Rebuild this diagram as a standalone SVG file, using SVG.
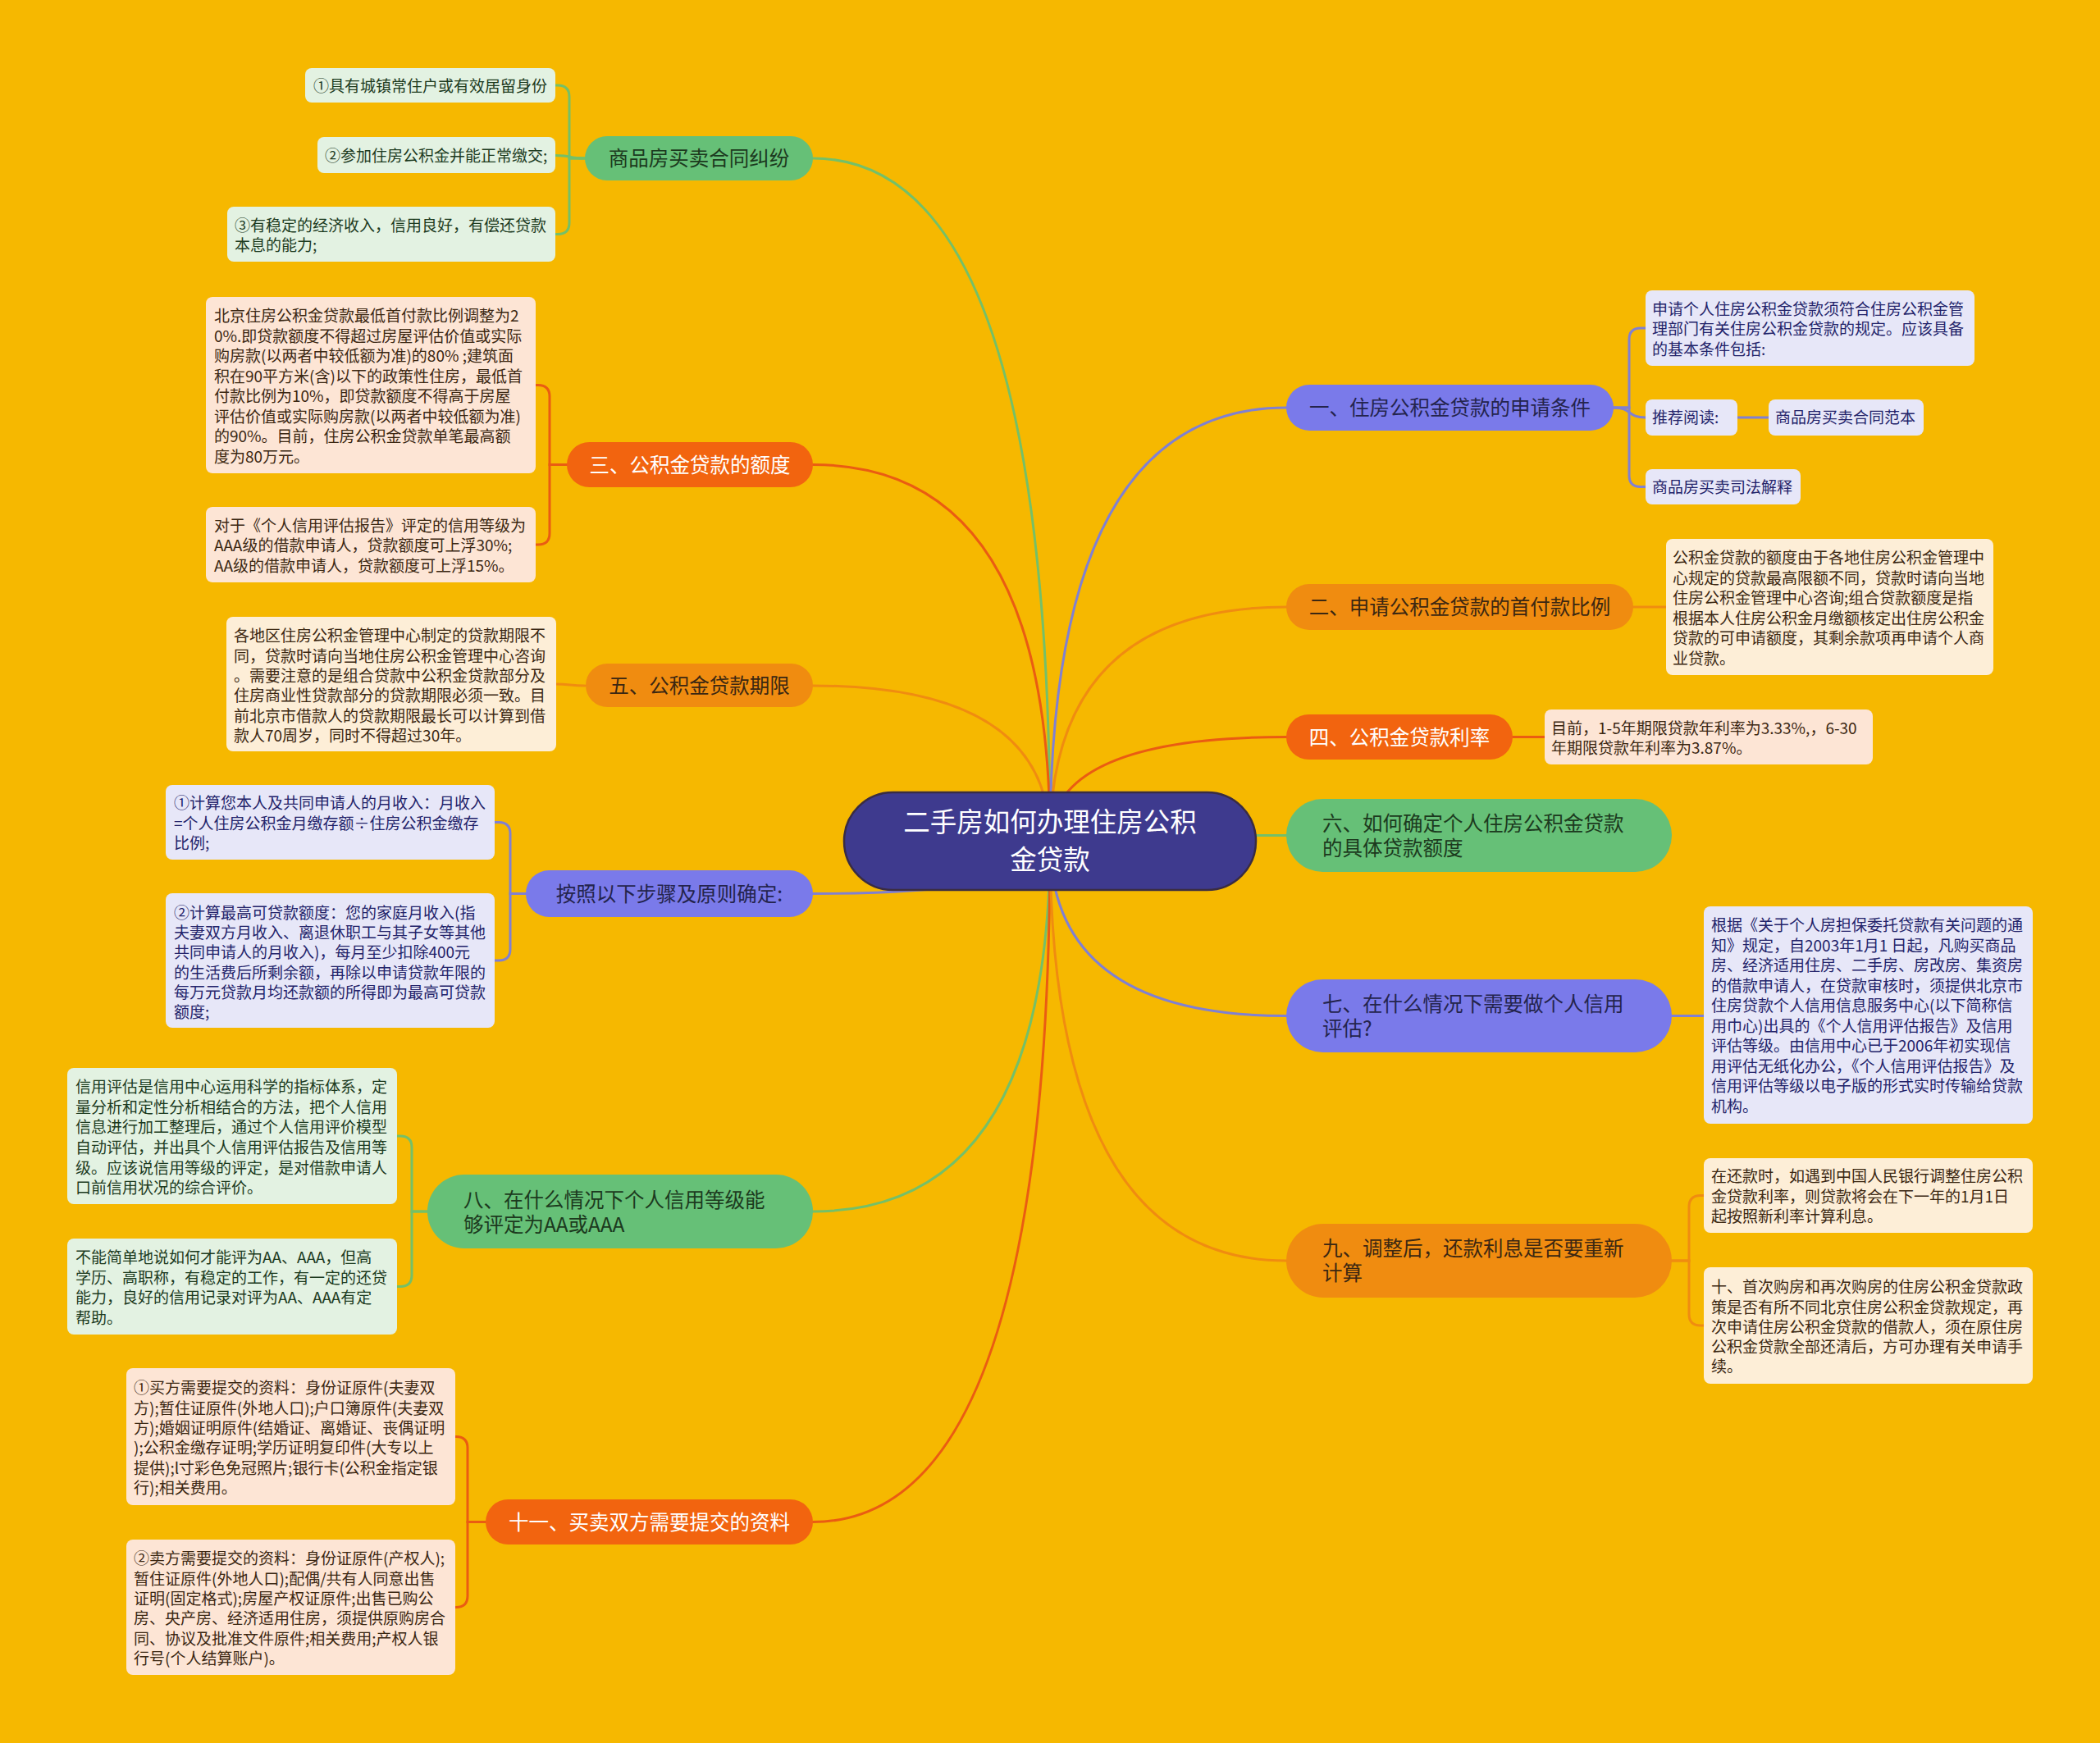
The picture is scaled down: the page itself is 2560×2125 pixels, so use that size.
<svg xmlns="http://www.w3.org/2000/svg" width="2560" height="2125" viewBox="0 0 2560 2125">
<style>
text{font-family:"Noto Sans CJK SC","Noto Sans",sans-serif;}
.lf{font-size:19px;}
.mn{font-size:24.5px;}
.ct{font-size:32.5px;fill:#ffffff;}
.mid{text-anchor:middle;}
.cn{fill:none;stroke-width:3;stroke-linecap:round;}
.cg{stroke:#74c068;}
.cp{stroke:#8080d2;}
.co{stroke:#f08c10;}
.cr{stroke:#ea5c12;}
.ng{fill:#66c077;}
.np{fill:#7a7aea;}
.no{fill:#f08c10;}
.nr{fill:#f2640f;}
.lg{fill:#e3f2e2;}
.lp{fill:#e7e7f8;}
.lo{fill:#fdeed7;}
.lr{fill:#fde5d5;}
.tg{fill:#1c3a1e;}
.tp{fill:#23236a;}
.tpn{fill:#24244d;}
.to{fill:#3b2712;}
.tw{fill:#ffffff;}
</style>
<rect x="0" y="0" width="2560" height="2125" fill="#f6b800"/>

<g id="connectors">
<path class="cn cg" d="M1280 1025 Q1280 193 991 193"/>
<path class="cn cr" d="M1280 1025 Q1280 566.5 991 566.5"/>
<path class="cn co" d="M1280 1025 Q1280 836 991 836"/>
<path class="cn cp" d="M1280 1025 Q1280 1089.5 991 1089.5"/>
<path class="cn cg" d="M1280 1025 Q1280 1477 991 1477"/>
<path class="cn cr" d="M1280 1025 Q1280 1855.5 991 1855.5"/>
<path class="cn cp" d="M1280 1025 Q1280 497 1568 497"/>
<path class="cn co" d="M1280 1025 Q1280 740 1568 740"/>
<path class="cn cr" d="M1280 1025 Q1280 898.5 1568 898.5"/>
<path class="cn cg" d="M1280 1025 Q1280 1018.5 1568 1018.5"/>
<path class="cn cp" d="M1280 1025 Q1280 1238.5 1568 1238.5"/>
<path class="cn co" d="M1280 1025 Q1280 1537 1568 1537"/>

<path class="cn cg" d="M713 193 H694 V118 Q694 104 680 104 H677"/>
<path class="cn cg" d="M713 193 C690 193 700 189.5 677 189.5"/>
<path class="cn cg" d="M713 193 H694 V271.5 Q694 285.5 680 285.5 H677"/>

<path class="cn cr" d="M691 566.5 H670 V483.5 Q670 469.5 656 469.5 H653"/>
<path class="cn cr" d="M691 566.5 H670 V650 Q670 664 656 664 H653"/>

<path class="cn co" d="M713 836 C695 836 695 834 677 834"/>

<path class="cn cp" d="M641 1089.5 H622 V1016.5 Q622 1002.5 608 1002.5 H603"/>
<path class="cn cp" d="M641 1089.5 H622 V1157 Q622 1171 608 1171 H603"/>

<path class="cn cg" d="M521 1477 H502 V1399 Q502 1385 488 1385 H484"/>
<path class="cn cg" d="M521 1477 H502 V1554.5 Q502 1568.5 488 1568.5 H484"/>

<path class="cn cr" d="M592 1855.5 H570 V1765.5 Q570 1751.5 556 1751.5 H555"/>
<path class="cn cr" d="M592 1855.5 H570 V1945.5 Q570 1959.5 556 1959.5 H555"/>

<path class="cn cp" d="M1967 497 H1986 V414 Q1986 400 2000 400 H2006"/>
<path class="cn cp" d="M1967 497 C1990 497 1983 509 2006 509"/>
<path class="cn cp" d="M1967 497 H1986 V579.5 Q1986 593.5 2000 593.5 H2006"/>
<path class="cn cp" d="M2118 509 H2156"/>

<path class="cn co" d="M1991 740 H2031"/>
<path class="cn cr" d="M1844 898.5 H1883"/>
<path class="cn cp" d="M2038 1238.5 H2077"/>

<path class="cn co" d="M2038 1537 H2059 V1471.5 Q2059 1457.5 2073 1457.5 H2077"/>
<path class="cn co" d="M2038 1537 H2059 V1602 Q2059 1616 2073 1616 H2077"/>
</g>

<g id="center">
<rect x="1029" y="966" width="502" height="119" rx="59.5" fill="#3e3a8e" stroke="#3a2c42" stroke-width="2.5"/>
<text class="ct mid" x="1280" y="1014.4">二手房如何办理住房公积<tspan x="1280" dy="46">金贷款</tspan></text>
</g>

<g id="node-A">
<rect class="ng" x="713" y="166" width="278" height="54" rx="27"/>
<text class="mn mid tg" x="852" y="202.3">商品房买卖合同纠纷</text>
</g>
<g id="leaf-A1">
<rect class="lg" x="372" y="83" width="305" height="42" rx="8"/>
<text class="lf tg" x="382" y="111.5">①具有城镇常住户或有效居留身份</text>
</g>
<g id="leaf-A2">
<rect class="lg" x="387" y="167" width="290" height="44" rx="8"/>
<text class="lf tg" x="396" y="197">②参加住房公积金并能正常缴交;</text>
</g>
<g id="leaf-A3">
<rect class="lg" x="277" y="252" width="400" height="67" rx="8"/>
<text class="lf tg" x="286" y="281.7">③有稳定的经济收入，信用良好，有偿还贷款<tspan x="286" dy="24">本息的能力;</tspan></text>
</g>

<g id="node-B">
<rect class="nr" x="691" y="539" width="300" height="55" rx="27.5"/>
<text class="mn mid tw" x="841" y="575.8">三、公积金贷款的额度</text>
</g>
<g id="leaf-B1">
<rect class="lr" x="251" y="362" width="402" height="215" rx="8"/>
<text class="lf to" x="261" y="392.2">北京住房公积金贷款最低首付款比例调整为2<tspan x="261" dy="24.5">0%.即贷款额度不得超过房屋评估价值或实际</tspan><tspan x="261" dy="24.5">购房款(以两者中较低额为准)的80% ;建筑面</tspan><tspan x="261" dy="24.5">积在90平方米(含)以下的政策性住房，最低首</tspan><tspan x="261" dy="24.5">付款比例为10%，即贷款额度不得高于房屋</tspan><tspan x="261" dy="24.5">评估价值或实际购房款(以两者中较低额为准)</tspan><tspan x="261" dy="24.5">的90%。目前，住房公积金贷款单笔最高额</tspan><tspan x="261" dy="24.5">度为80万元。</tspan></text>
</g>
<g id="leaf-B2">
<rect class="lr" x="251" y="618" width="402" height="92" rx="8"/>
<text class="lf to" x="261" y="647.7">对于《个人信用评估报告》评定的信用等级为<tspan x="261" dy="24.5">AAA级的借款申请人，贷款额度可上浮30%;</tspan><tspan x="261" dy="24.5">AA级的借款申请人，贷款额度可上浮15%。</tspan></text>
</g>

<g id="node-C">
<rect class="no" x="714" y="809" width="277" height="53" rx="26.5"/>
<text class="mn mid to" x="852.5" y="844.8">五、公积金贷款期限</text>
</g>
<g id="leaf-C1">
<rect class="lo" x="276" y="752" width="402" height="164" rx="8"/>
<text class="lf to" x="285" y="782.2">各地区住房公积金管理中心制定的贷款期限不<tspan x="285" dy="24.4">同，贷款时请向当地住房公积金管理中心咨询</tspan><tspan x="285" dy="24.4">。需要注意的是组合贷款中公积金贷款部分及</tspan><tspan x="285" dy="24.4">住房商业性贷款部分的贷款期限必须一致。目</tspan><tspan x="285" dy="24.4">前北京市借款人的贷款期限最长可以计算到借</tspan><tspan x="285" dy="24.4">款人70周岁，同时不得超过30年。</tspan></text>
</g>

<g id="node-D">
<rect class="np" x="641" y="1061" width="350" height="57" rx="28.5"/>
<text class="mn mid tpn" x="816" y="1098.8">按照以下步骤及原则确定:</text>
</g>
<g id="leaf-D1">
<rect class="lp" x="202" y="957" width="401" height="91" rx="8"/>
<text class="lf tp" x="212" y="986.2">①计算您本人及共同申请人的月收入：月收入<tspan x="212" dy="24.5">=个人住房公积金月缴存额÷住房公积金缴存</tspan><tspan x="212" dy="24.5">比例;</tspan></text>
</g>
<g id="leaf-D2">
<rect class="lp" x="202" y="1089" width="401" height="164" rx="8"/>
<text class="lf tp" x="212" y="1120.2">②计算最高可贷款额度：您的家庭月收入(指<tspan x="212" dy="24.1">夫妻双方月收入、离退休职工与其子女等其他</tspan><tspan x="212" dy="24.1">共同申请人的月收入)，每月至少扣除400元</tspan><tspan x="212" dy="24.1">的生活费后所剩余额，再除以申请贷款年限的</tspan><tspan x="212" dy="24.1">每万元贷款月均还款额的所得即为最高可贷款</tspan><tspan x="212" dy="24.1">额度;</tspan></text>
</g>

<g id="node-E">
<rect class="ng" x="521" y="1432" width="470" height="90" rx="45"/>
<text class="mn tg" x="565" y="1471.8">八、在什么情况下个人信用等级能<tspan x="565" dy="30">够评定为AA或AAA</tspan></text>
</g>
<g id="leaf-E1">
<rect class="lg" x="82" y="1302" width="402" height="166" rx="8"/>
<text class="lf tg" x="92" y="1332.2">信用评估是信用中心运用科学的指标体系，定<tspan x="92" dy="24.6">量分析和定性分析相结合的方法，把个人信用</tspan><tspan x="92" dy="24.6">信息进行加工整理后，通过个人信用评价模型</tspan><tspan x="92" dy="24.6">自动评估，并出具个人信用评估报告及信用等</tspan><tspan x="92" dy="24.6">级。应该说信用等级的评定，是对借款申请人</tspan><tspan x="92" dy="24.6">口前信用状况的综合评价。</tspan></text>
</g>
<g id="leaf-E2">
<rect class="lg" x="82" y="1510" width="402" height="117" rx="8"/>
<text class="lf tg" x="92" y="1540.2">不能简单地说如何才能评为AA、AAA，但高<tspan x="92" dy="24.5">学历、高职称，有稳定的工作，有一定的还贷</tspan><tspan x="92" dy="24.5">能力，良好的信用记录对评为AA、AAA有定</tspan><tspan x="92" dy="24.5">帮助。</tspan></text>
</g>

<g id="node-F">
<rect class="nr" x="592" y="1828" width="399" height="55" rx="27.5"/>
<text class="mn mid tw" x="791.5" y="1864.8">十一、买卖双方需要提交的资料</text>
</g>
<g id="leaf-F1">
<rect class="lr" x="154" y="1668" width="401" height="167" rx="8"/>
<text class="lf to" x="163" y="1699.2">①买方需要提交的资料：身份证原件(夫妻双<tspan x="163" dy="24.4">方);暂住证原件(外地人口);户口簿原件(夫妻双</tspan><tspan x="163" dy="24.4">方);婚姻证明原件(结婚证、离婚证、丧偶证明</tspan><tspan x="163" dy="24.4">);公积金缴存证明;学历证明复印件(大专以上</tspan><tspan x="163" dy="24.4">提供);l寸彩色免冠照片;银行卡(公积金指定银</tspan><tspan x="163" dy="24.4">行);相关费用。</tspan></text>
</g>
<g id="leaf-F2">
<rect class="lr" x="154" y="1877" width="401" height="165" rx="8"/>
<text class="lf to" x="163" y="1907.2">②卖方需要提交的资料：身份证原件(产权人);<tspan x="163" dy="24.4">暂住证原件(外地人口);配偶/共有人同意出售</tspan><tspan x="163" dy="24.4">证明(固定格式);房屋产权证原件;出售已购公</tspan><tspan x="163" dy="24.4">房、央产房、经济适用住房，须提供原购房合</tspan><tspan x="163" dy="24.4">同、协议及批准文件原件;相关费用;产权人银</tspan><tspan x="163" dy="24.4">行号(个人结算账户)。</tspan></text>
</g>

<g id="node-1">
<rect class="np" x="1568" y="469" width="399" height="56" rx="28"/>
<text class="mn mid tpn" x="1767.5" y="506.3">一、住房公积金贷款的申请条件</text>
</g>
<g id="leaf-1a">
<rect class="lp" x="2006" y="354" width="401" height="92" rx="8"/>
<text class="lf tp" x="2014" y="383.7">申请个人住房公积金贷款须符合住房公积金管<tspan x="2014" dy="24.5">理部门有关住房公积金贷款的规定。应该具备</tspan><tspan x="2014" dy="24.5">的基本条件包括:</tspan></text>
</g>
<g id="leaf-1b">
<rect class="lp" x="2006" y="487" width="112" height="44" rx="8"/>
<text class="lf tp" x="2014" y="516.2">推荐阅读:</text>
</g>
<g id="leaf-1b1">
<rect class="lp" x="2156" y="487" width="189" height="44" rx="8"/>
<text class="lf tp" x="2164" y="516.2">商品房买卖合同范本</text>
</g>
<g id="leaf-1c">
<rect class="lp" x="2006" y="572" width="189" height="43" rx="8"/>
<text class="lf tp" x="2014" y="600.7">商品房买卖司法解释</text>
</g>

<g id="node-2">
<rect class="no" x="1568" y="712" width="423" height="56" rx="28"/>
<text class="mn mid to" x="1779.5" y="749.3">二、申请公积金贷款的首付款比例</text>
</g>
<g id="leaf-2a">
<rect class="lo" x="2031" y="657" width="399" height="166" rx="8"/>
<text class="lf to" x="2039" y="687.2">公积金贷款的额度由于各地住房公积金管理中<tspan x="2039" dy="24.5">心规定的贷款最高限额不同，贷款时请向当地</tspan><tspan x="2039" dy="24.5">住房公积金管理中心咨询;组合贷款额度是指</tspan><tspan x="2039" dy="24.5">根据本人住房公积金月缴额核定出住房公积金</tspan><tspan x="2039" dy="24.5">贷款的可申请额度，其剩余款项再申请个人商</tspan><tspan x="2039" dy="24.5">业贷款。</tspan></text>
</g>

<g id="node-4">
<rect class="nr" x="1568" y="871" width="276" height="55" rx="27.5"/>
<text class="mn mid tw" x="1706" y="907.8">四、公积金贷款利率</text>
</g>
<g id="leaf-4a">
<rect class="lr" x="1883" y="865" width="400" height="67" rx="8"/>
<text class="lf to" x="1891" y="894.7">目前，1-5年期限贷款年利率为3.33%,，6-30<tspan x="1891" dy="24.5">年期限贷款年利率为3.87%。</tspan></text>
</g>

<g id="node-6">
<rect class="ng" x="1568" y="974" width="470" height="89" rx="44.5"/>
<text class="mn tg" x="1612" y="1012.8">六、如何确定个人住房公积金贷款<tspan x="1612" dy="30">的具体贷款额度</tspan></text>
</g>

<g id="node-7">
<rect class="np" x="1568" y="1194" width="470" height="89" rx="44.5"/>
<text class="mn tpn" x="1612" y="1232.8">七、在什么情况下需要做个人信用<tspan x="1612" dy="30">评估?</tspan></text>
</g>
<g id="leaf-7a">
<rect class="lp" x="2077" y="1105" width="401" height="265" rx="8"/>
<text class="lf tp" x="2086" y="1135.2">根据《关于个人房担保委托贷款有关问题的通<tspan x="2086" dy="24.5">知》规定，自2003年1月1 日起，凡购买商品</tspan><tspan x="2086" dy="24.5">房、经济适用住房、二手房、房改房、集资房</tspan><tspan x="2086" dy="24.5">的借款申请人，在贷款审核时，须提供北京市</tspan><tspan x="2086" dy="24.5">住房贷款个人信用信息服务中心(以下简称信</tspan><tspan x="2086" dy="24.5">用巾心)出具的《个人信用评估报告》及信用</tspan><tspan x="2086" dy="24.5">评估等级。由信用中心已于2006年初实现信</tspan><tspan x="2086" dy="24.5">用评估无纸化办公，《个人信用评估报告》及</tspan><tspan x="2086" dy="24.5">信用评估等级以电子版的形式实时传输给贷款</tspan><tspan x="2086" dy="24.5">机构。</tspan></text>
</g>

<g id="node-9">
<rect class="no" x="1568" y="1492" width="470" height="90" rx="45"/>
<text class="mn to" x="1612" y="1531.3">九、调整后，还款利息是否要重新<tspan x="1612" dy="30">计算</tspan></text>
</g>
<g id="leaf-9a">
<rect class="lo" x="2077" y="1412" width="401" height="91" rx="8"/>
<text class="lf to" x="2086" y="1441.2">在还款时，如遇到中国人民银行调整住房公积<tspan x="2086" dy="24.3">金贷款利率，则贷款将会在下一年的1月1日</tspan><tspan x="2086" dy="24.3">起按照新利率计算利息。</tspan></text>
</g>
<g id="leaf-9b">
<rect class="lo" x="2077" y="1545" width="401" height="142" rx="8"/>
<text class="lf to" x="2086" y="1576.2">十、首次购房和再次购房的住房公积金贷款政<tspan x="2086" dy="24.3">策是否有所不同北京住房公积金贷款规定，再</tspan><tspan x="2086" dy="24.3">次申请住房公积金贷款的借款人，须在原住房</tspan><tspan x="2086" dy="24.3">公积金贷款全部还清后，方可办理有关申请手</tspan><tspan x="2086" dy="24.3">续。</tspan></text>
</g>
</svg>
